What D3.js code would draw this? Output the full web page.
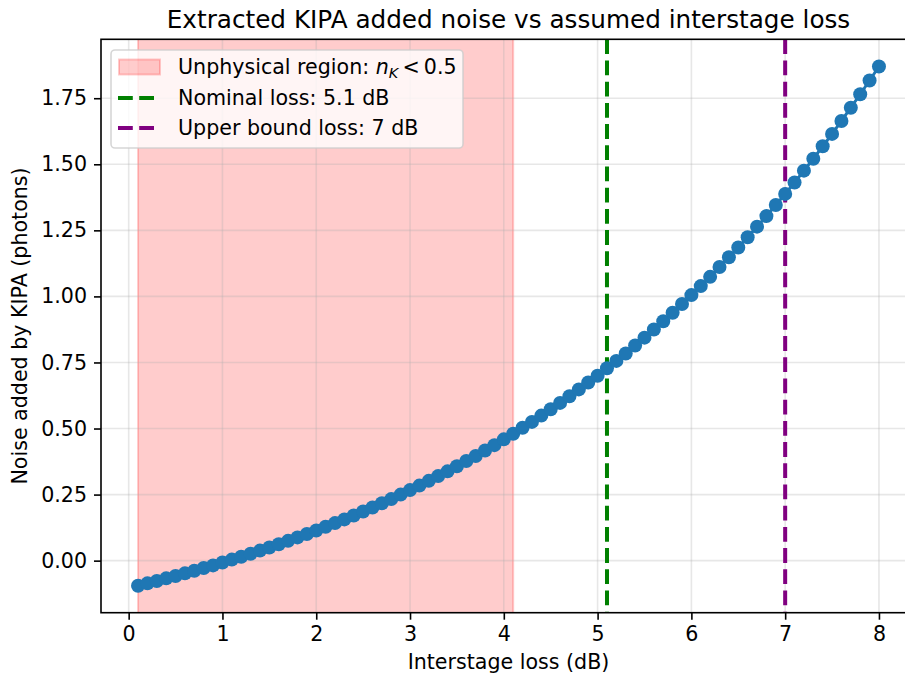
<!DOCTYPE html>
<html>
<head>
<meta charset="utf-8">
<script src="https://cdn.jsdelivr.net/npm/d3@7"></script>
<style>
  html, body { margin: 0; padding: 0; background: #fff; }
  svg { display: block; font-family: "DejaVu Sans", sans-serif; }
</style>
</head>
<body>
<svg id="chart" width="905" height="675"></svg>
<script>
// ---- Data ----
const lossDb = [
  0.1,0.2,0.3,0.4,0.5,0.6,0.7,0.8,0.9,1.0,
  1.1,1.2,1.3,1.4,1.5,1.6,1.7,1.8,1.9,2.0,
  2.1,2.2,2.3,2.4,2.5,2.6,2.7,2.8,2.9,3.0,
  3.1,3.2,3.3,3.4,3.5,3.6,3.7,3.8,3.9,4.0,
  4.1,4.2,4.3,4.4,4.5,4.6,4.7,4.8,4.9,5.0,
  5.1,5.2,5.3,5.4,5.5,5.6,5.7,5.8,5.9,6.0,
  6.1,6.2,6.3,6.4,6.5,6.6,6.7,6.8,6.9,7.0,
  7.1,7.2,7.3,7.4,7.5,7.6,7.7,7.8,7.9,8.0
];
const addedNoise = [
  -0.095,-0.086,-0.077,-0.067,-0.058,-0.048,-0.038,-0.028,-0.018,-0.007,
  0.004,0.015,0.026,0.038,0.050,0.062,0.075,0.088,0.101,0.114,
  0.128,0.142,0.156,0.171,0.186,0.201,0.217,0.233,0.250,0.267,
  0.284,0.302,0.320,0.338,0.357,0.377,0.396,0.417,0.437,0.459,
  0.480,0.503,0.525,0.549,0.573,0.597,0.622,0.648,0.674,0.700,
  0.728,0.756,0.784,0.814,0.844,0.875,0.906,0.938,0.971,1.005,
  1.039,1.074,1.111,1.148,1.185,1.224,1.264,1.304,1.346,1.388,
  1.431,1.476,1.521,1.568,1.615,1.664,1.714,1.765,1.817,1.870
];
const unphysicalRange = [0.1, 4.1];
const vLines = [
  { label: "Nominal loss: 5.1 dB", x: 5.1, color: "#008000" },
  { label: "Upper bound loss: 7 dB", x: 7.0, color: "#800080" }
];
const xTicks = [0, 1, 2, 3, 4, 5, 6, 7, 8];
const yTicks = [0.00, 0.25, 0.50, 0.75, 1.00, 1.25, 1.50, 1.75];
const xDomain = [-0.295, 8.395];
const yDomain = [-0.197, 1.973];

const titleText = "Extracted KIPA added noise vs assumed interstage loss";
const xLabel = "Interstage loss (dB)";
const yLabel = "Noise added by KIPA (photons)";

// ---- Layout ----
const L = 101, R = 916, T = 39.3, B = 612.7;
const FS = 20.6, TFS = 24.7;
const svg = d3.select("#chart");
const x = d3.scaleLinear().domain(xDomain).range([L, R]);
const y = d3.scaleLinear().domain(yDomain).range([B, T]);

svg.append("defs").append("clipPath").attr("id", "clip")
  .append("rect").attr("x", L).attr("y", T).attr("width", R - L).attr("height", B - T);

const plot = svg.append("g").attr("clip-path", "url(#clip)");

// unphysical span
plot.append("rect")
  .attr("x", x(unphysicalRange[0])).attr("y", T - 5)
  .attr("width", x(unphysicalRange[1]) - x(unphysicalRange[0]))
  .attr("height", B - T + 10)
  .attr("fill", "rgba(255,0,0,0.2)")
  .attr("stroke", "rgba(255,0,0,0.2)")
  .attr("stroke-width", 2);

// grid
const gridColor = "rgba(176,176,176,0.3)";
plot.selectAll(".gx").data(xTicks).enter().append("line")
  .attr("x1", d => x(d)).attr("x2", d => x(d)).attr("y1", T).attr("y2", B)
  .attr("stroke", gridColor).attr("stroke-width", 1.6);
plot.selectAll(".gy").data(yTicks).enter().append("line")
  .attr("y1", d => y(d)).attr("y2", d => y(d)).attr("x1", L).attr("x2", R)
  .attr("stroke", gridColor).attr("stroke-width", 1.6);

// vertical lines
plot.selectAll(".vl").data(vLines).enter().append("line")
  .attr("x1", d => x(d.x)).attr("x2", d => x(d.x)).attr("y1", T).attr("y2", B)
  .attr("stroke", d => d.color).attr("stroke-width", 4)
  .attr("stroke-dasharray", "14.8,6.4");

// data line + markers
const pts = lossDb.map((d, i) => [d, addedNoise[i]]);
plot.append("path")
  .attr("d", d3.line().x(d => x(d[0])).y(d => y(d[1]))(pts))
  .attr("fill", "none").attr("stroke", "#1f77b4").attr("stroke-width", 3);
plot.selectAll(".pt").data(pts).enter().append("circle")
  .attr("cx", d => x(d[0])).attr("cy", d => y(d[1])).attr("r", 7)
  .attr("fill", "#1f77b4");

// axes
const xAxis = d3.axisBottom(x).tickValues(xTicks).tickFormat(d3.format("d"))
  .tickSizeOuter(0).tickSize(7).tickPadding(7);
const yAxis = d3.axisLeft(y).tickValues(yTicks).tickFormat(d3.format(".2f"))
  .tickSizeOuter(0).tickSize(7).tickPadding(7);

const gx = svg.append("g").attr("transform", `translate(0,${B})`).call(xAxis);
const gy = svg.append("g").attr("transform", `translate(${L},0)`).call(yAxis);
[gx, gy].forEach(g => {
  g.select(".domain").remove();
  g.selectAll(".tick line").attr("stroke", "#000").attr("stroke-width", 1.6);
  g.selectAll(".tick text").attr("fill", "#000")
    .style("font-size", FS + "px").style("font-family", "DejaVu Sans");
});

// spines
svg.append("rect").attr("x", L).attr("y", T).attr("width", R - L).attr("height", B - T)
  .attr("fill", "none").attr("stroke", "#000").attr("stroke-width", 1.6);

// title and labels
svg.append("text").attr("x", (L + R) / 2).attr("y", 28)
  .attr("text-anchor", "middle").style("font-size", TFS + "px").text(titleText);
svg.append("text").attr("x", (L + R) / 2).attr("y", 669)
  .attr("text-anchor", "middle").style("font-size", FS + "px").text(xLabel);
svg.append("text").attr("transform", `translate(27,${(T + B) / 2}) rotate(-90)`)
  .attr("text-anchor", "middle").style("font-size", FS + "px").text(yLabel);

// legend
const lg = svg.append("g");
lg.append("rect").attr("x", 111).attr("y", 50).attr("width", 352).attr("height", 98)
  .attr("rx", 4).attr("fill", "rgba(255,255,255,0.8)")
  .attr("stroke", "rgba(204,204,204,0.8)").attr("stroke-width", 1.6);
const rowY = [67, 98, 128];
lg.append("rect").attr("x", 119).attr("y", rowY[0] - 7.5).attr("width", 41).attr("height", 15)
  .attr("fill", "rgba(255,0,0,0.2)").attr("stroke", "rgba(255,0,0,0.2)").attr("stroke-width", 2);
const t0 = lg.append("text").attr("x", 178).attr("y", rowY[0] + 7).style("font-size", FS + "px");
t0.append("tspan").text("Unphysical region: ");
t0.append("tspan").style("font-style", "italic").text("n");
t0.append("tspan").style("font-style", "italic").style("font-size", "14.5px").attr("dy", 4).text("K");
t0.append("tspan").attr("dy", -4).text("\u2009<\u20090.5");
vLines.forEach((d, i) => {
  lg.append("line").attr("x1", 118).attr("x2", 158).attr("y1", rowY[i + 1]).attr("y2", rowY[i + 1])
    .attr("stroke", d.color).attr("stroke-width", 4).attr("stroke-dasharray", "14.8,6.4");
  lg.append("text").attr("x", 178).attr("y", rowY[i + 1] + 7).style("font-size", FS + "px").text(d.label);
});
</script>
</body>
</html>
